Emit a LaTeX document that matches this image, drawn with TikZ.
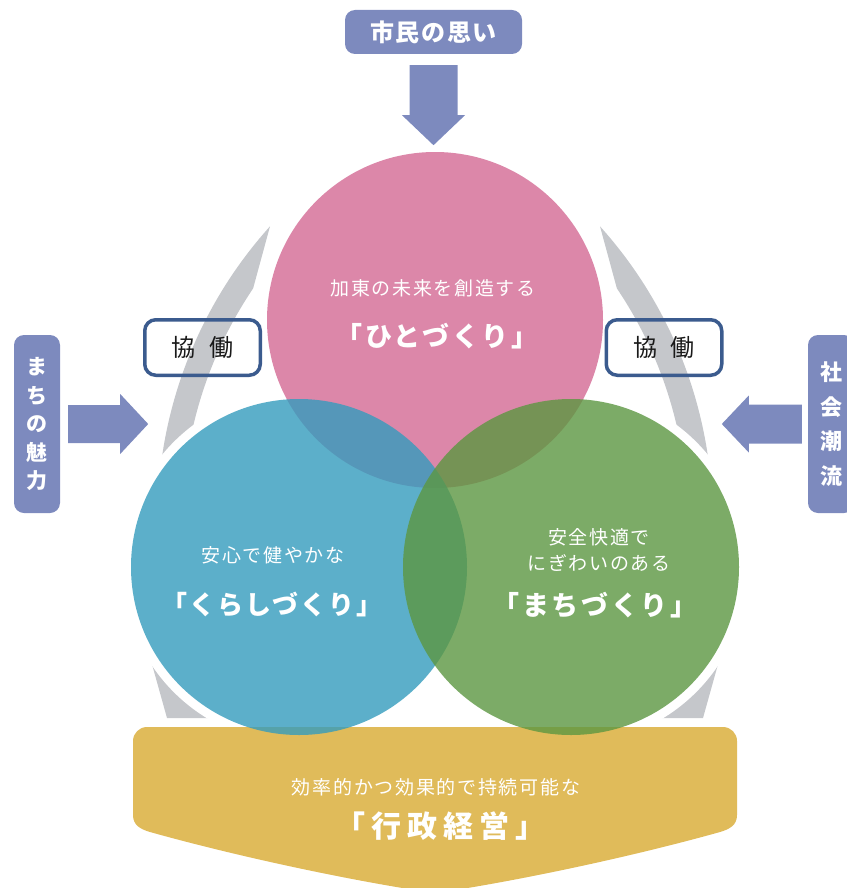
\documentclass[tikz,border=0pt]{standalone}
\usepackage{fontspec}
\setmainfont{Noto Sans CJK JP}
\usetikzlibrary{positioning}
\definecolor{hpink}{RGB}{220,135,169}
\definecolor{kblue}{RGB}{52,156,189}
\definecolor{mgreen}{RGB}{92,151,65}
\definecolor{gyellow}{RGB}{224,187,90}
\definecolor{lblue}{RGB}{125,138,190}
\definecolor{bgray}{RGB}{197,199,203}
\definecolor{kframe}{RGB}{59,91,142}
\tikzset{
  labelbox/.style={fill=lblue, rounded corners=10pt, text=white, inner sep=0pt},
  kyodobox/.style={draw=kframe, line width=3.5pt, rounded corners=11pt,
    minimum width=115.5pt, minimum height=55.5pt, text=black!90,
    font=\fontsize{24}{24}\selectfont},
  ringtext/.style={text=white, align=center, inner sep=0pt},
  lead/.style={ringtext, font=\fontsize{19}{26}\selectfont\addfontfeature{LetterSpace=9}},
  title/.style={ringtext, font=\bfseries\fontsize{27}{27}\selectfont\addfontfeature{LetterSpace=10}},
}

\begin{document}
\begin{tikzpicture}[x=1pt, y=-1pt]
    \useasboundingbox (0,0) rectangle (846,888);

    % gray bands behind the circles
    \fill [bgray] (595.5,519.4) ++(222:438) arc [start angle=222, end angle=178, radius=438]
      -- ++(178:-25) arc [start angle=178, end angle=214, radius=413] -- cycle;
    \fill [bgray] (274.5,519.4) ++(-42:438) arc [start angle=-42, end angle=2, radius=438]
      -- ++(2:-25) arc [start angle=2, end angle=-34, radius=413] -- cycle;
    \fill [bgray] (148,650) -- (167,718) -- (240,718) -- (240,650) -- cycle;
    \fill [bgray] (722,650) -- (703,718) -- (630,718) -- (630,650) -- cycle;

    \foreach \c in {(435,320), (299,567), (571,567)}
      \fill [white] \c circle [radius=177];

    % base
    \fill [gyellow] (147,727) -- (723,727) arc [start angle=-90, end angle=0, radius=14]
      -- (737,815) .. controls (737,825) and (730,829) .. (720,832)
      .. controls (620,860) and (500,884) .. (435,893)
      .. controls (370,884) and (250,860) .. (150,832)
      .. controls (140,829) and (133,825) .. (133,815)
      -- (133,741) arc [start angle=180, end angle=270, radius=14] -- cycle;

    \fill [hpink] (435,320) circle [radius=168];
    \fill [kblue, fill opacity=0.8] (299,567) circle [radius=168];
    \fill [mgreen, fill opacity=0.8] (571,567) circle [radius=168];

    \node [lead] (hitolead) at (433,288) {加東の未来を創造する};
    \node [title] (hito) at (437,336) {「ひとづくり」};
    \node [lead] (kurashilead) at (273,555) {安心で健やかな};
    \node [title, font=\bfseries\fontsize{26}{26}\selectfont\addfontfeature{LetterSpace=8}]
      (kurashi) at (272,605) {「くらしづくり」};
    \node [lead] (machilead) at (599,550) {安全快適で\\にぎわいのある};
    \node [title] (machi) at (595,605) {「まちづくり」};
    \node [lead] (gyoseilead) at (436,787) {効率的かつ効果的で持続可能な};
    \node [title, font=\bfseries\fontsize{30}{30}\selectfont\addfontfeature{LetterSpace=20}]
      (gyosei) at (440,826) {「行政経営」};

    % outside influences
    \node [labelbox, minimum width=177pt, minimum height=44pt,
      font=\bfseries\fontsize{24}{24}\selectfont\addfontfeature{LetterSpace=7}]
      (shimin) at (433.5,32) {市民の思い};
    \node [labelbox, minimum width=46pt, minimum height=178pt, align=center,
      font=\bfseries\fontsize{21}{28.5}\selectfont] (miryoku) at (37,424) {ま\\ち\\の\\魅\\力};
    \node [labelbox, minimum width=46pt, minimum height=178pt, align=center,
      font=\bfseries\fontsize{22}{34.7}\selectfont] (choryu) at (831,424) {社\\会\\潮\\流};

    \coordinate [below=91pt of shimin] (tipT);
    \coordinate [right=88pt of miryoku] (tipL);
    \coordinate [left=86pt of choryu] (tipR);
    \fill [lblue] (tipT) -- ++(31.5,-30) -- ++(-7.5,0) -- ++(0,-50) -- ++(-48,0)
      -- ++(0,50) -- ++(-7.5,0) -- cycle;
    \fill [lblue] (tipL) -- ++(-28,-30) -- ++(0,11) -- ++(-52,0) -- ++(0,38)
      -- ++(52,0) -- ++(0,11) -- cycle;
    \fill [lblue] (tipR) -- ++(27,-28.5) -- ++(0,9) -- ++(53,0) -- ++(0,39)
      -- ++(-53,0) -- ++(0,9) -- cycle;

    \node [kyodobox] (kyodoL) at (202.5,347.5) {協\hspace{0.55em}働};
    \node [kyodobox] (kyodoR) at (664,347.5) {協\hspace{0.55em}働};
\end{tikzpicture}
\end{document}
